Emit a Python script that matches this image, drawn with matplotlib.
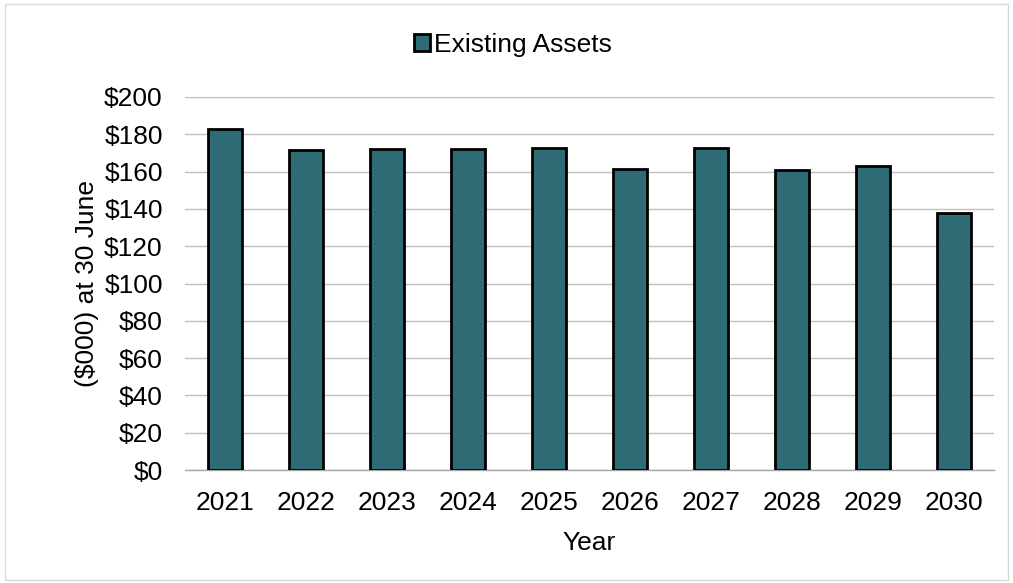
import matplotlib
matplotlib.use("Agg")
import matplotlib.pyplot as plt
from matplotlib.patches import Rectangle

plt.rcParams['font.family'] = ['Liberation Sans', 'DejaVu Sans']

years = ["2021", "2022", "2023", "2024", "2025", "2026", "2027", "2028", "2029", "2030"]
existing_assets = [182.8, 171.6, 172.0, 172.0, 172.5, 161.4, 172.5, 161.0, 162.8, 137.8]
y_ticks = [0, 20, 40, 60, 80, 100, 120, 140, 160, 180, 200]
y_tick_labels = ["$" + str(v) for v in y_ticks]

bar_color = "#2E6B75"
fs = 19

fig = plt.figure(figsize=(10.13, 5.83), dpi=100)
ax = fig.add_axes([185 / 1013, 1 - 470 / 583, (994 - 185) / 1013, (470 - 97) / 583])

x = range(len(years))
ax.bar(x, existing_assets, width=0.42, color=bar_color, edgecolor="black",
       linewidth=2, label="Existing Assets", zorder=3)

ax.set_xlim(-0.5, len(years) - 0.5)
ax.set_ylim(0, 200)
ax.set_xticks(list(x))
ax.set_xticklabels(years, fontsize=fs)
ax.set_yticks(y_ticks)
ax.set_yticklabels(y_tick_labels, fontsize=fs)
ax.tick_params(axis="y", length=0, pad=16)
ax.tick_params(axis="x", length=0, pad=15)

ax.grid(axis="y", color="#BFBFBF", linewidth=1, zorder=0)
for side in ("top", "right", "left"):
    ax.spines[side].set_visible(False)
ax.spines["bottom"].set_color("#A6A6A6")
ax.spines["bottom"].set_linewidth(1)

ax.set_xlabel("Year", fontsize=fs, labelpad=12)
ax.set_ylabel("($000) at 30 June", fontsize=fs, labelpad=4)

ax.legend(loc="center", bbox_to_anchor=(513 / 1013, 1 - 45 / 583), bbox_transform=fig.transFigure,
          frameon=False, fontsize=fs, handlelength=0.6, handleheight=0.6,
          handletextpad=0.15)

# outer chart frame
fig.patches.append(Rectangle((5 / 1013, 3 / 583), 1003 / 1013, 576 / 583,
                             transform=fig.transFigure, fill=False,
                             edgecolor="#D9D9D9", linewidth=1))

fig.savefig("out.png", dpi=100, facecolor="white")
